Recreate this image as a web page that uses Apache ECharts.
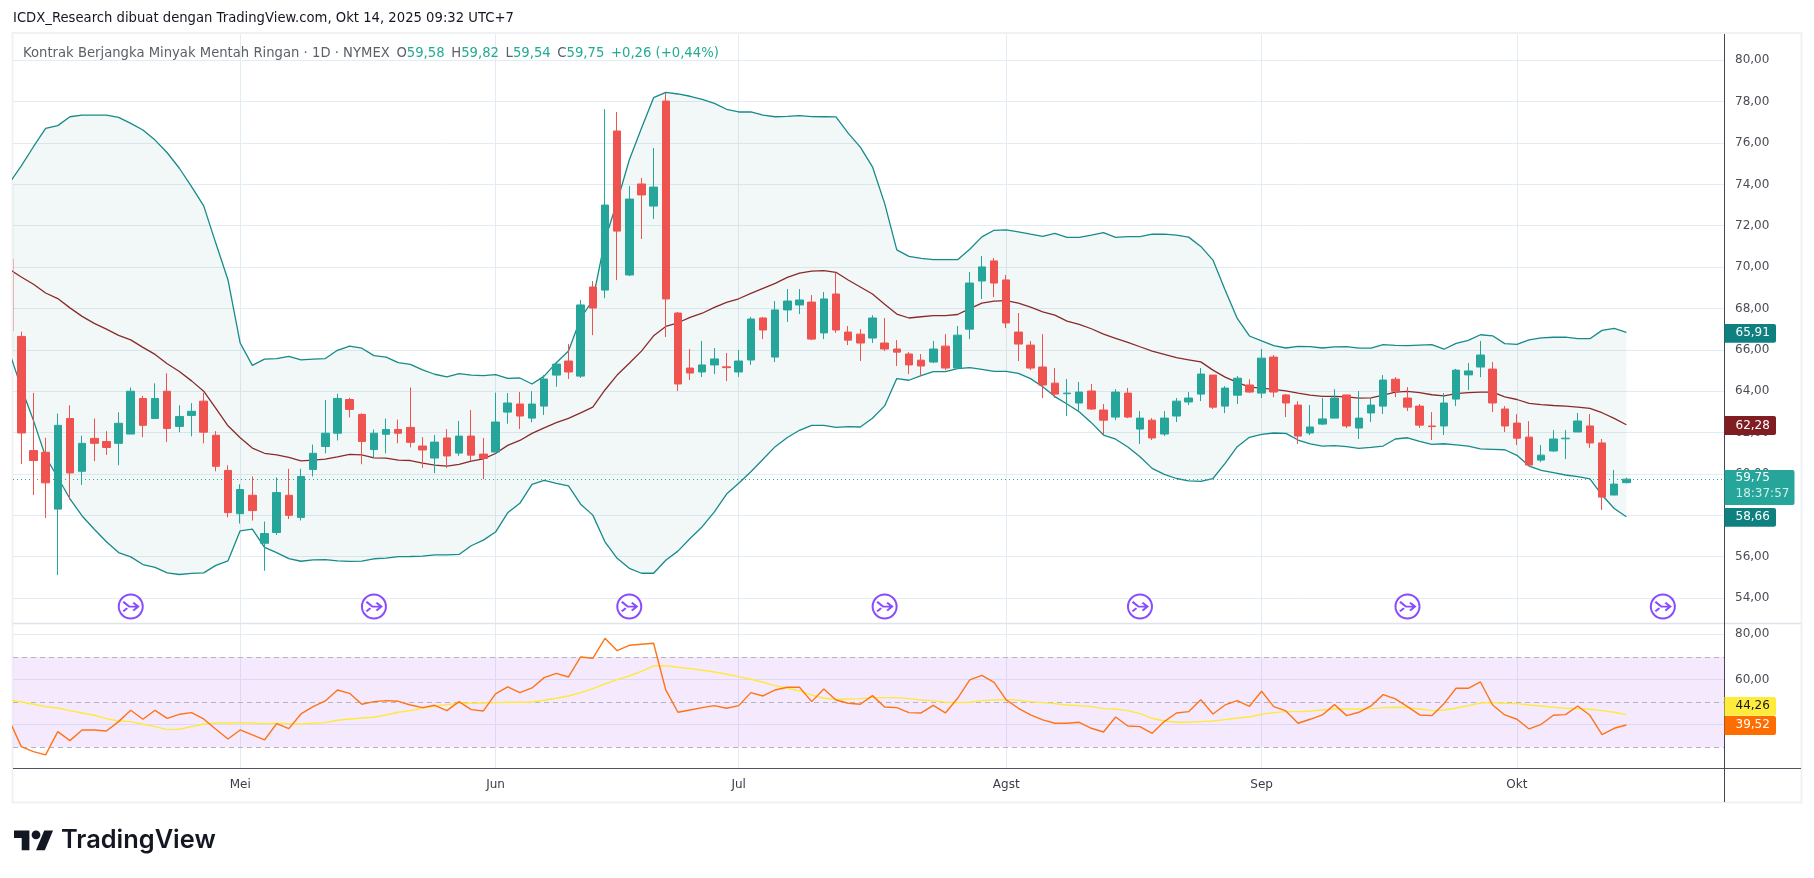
<!DOCTYPE html>
<html>
<head>
<meta charset="utf-8">
<style>html,body{margin:0;padding:0;background:#fff;overflow:hidden}#c{width:1814px;height:878px}</style>
<script src="https://cdn.jsdelivr.net/npm/echarts@6/dist/echarts.min.js"></script>
</head>
<body>
<div id="c"></div>
<script>
const opens = [70.4,66.65,61.13,61.05,58.3,62.68,60.13,61.72,61.57,61.48,
61.93,63.65,62.68,64,62.3,62.83,63.52,61.87,60.17,58.08,
58.97,56.65,57.17,58.97,57.9,60.22,61.33,61.97,63.6,62.88,
61.18,61.92,62.15,62.25,61.35,60.77,61.74,61.01,61.83,60.96,
61.06,62.99,63.38,62.7,63.28,64.78,65.46,64.73,69.04,68.89,
76.58,69.62,74.02,72.95,78.03,67.78,65.12,64.93,65.27,65.18,
64.93,65.51,67.54,65.65,67.93,68.17,68.31,66.82,68.7,66.86,
66.76,66.57,66.33,66.04,65.8,65.5,65.41,66.18,65.12,67,
69.33,70.3,69.38,66.86,66.23,65.17,64.39,63.88,63.43,64.01,
63.09,62.75,63.91,62.17,62.6,61.93,62.8,63.48,63.86,64.78,
63.28,63.81,64.3,63.91,65.65,63.82,63.33,61.98,62.41,62.7,
63.82,62.22,62.95,63.28,64.58,63.67,63.28,62.32,62.32,63.62,
64.79,65.17,65.07,63.14,62.46,61.78,60.67,61.11,61.7,62.03,
62.32,61.5,58.98,59.58];
const closes = [66.9,61.98,60.65,59.57,62.35,60.05,61.48,61.48,61.28,62.45,
64,62.35,63.65,62.2,62.78,63.03,62.02,60.37,58.13,59.25,
58.23,57.12,59.1,58,59.88,61,61.97,63.65,63.12,61.57,
61.97,62.15,61.97,61.53,61.16,61.54,60.87,61.83,60.91,60.75,
62.51,63.43,62.8,63.38,64.59,65.31,64.93,68.17,68.02,73,
71.74,73.29,73.49,73.87,68.46,64.35,64.88,65.27,65.56,65.14,
65.46,67.49,66.96,67.93,68.36,68.41,66.52,68.46,66.96,66.47,
66.33,67.54,66.04,65.89,65.27,65.22,66.04,65.12,66.71,69.23,
70.01,69.23,67.3,66.28,65.12,64.3,63.86,63.91,63.96,63.14,
62.6,63.96,62.75,62.7,61.74,62.7,63.52,63.67,64.83,63.23,
64.15,64.63,63.96,65.6,63.96,63.43,61.83,62.27,62.66,63.67,
62.32,62.7,63.33,64.54,64,63.23,62.36,62.29,63.43,65.02,
64.98,65.75,63.43,62.32,61.73,60.43,60.91,61.69,61.73,62.56,
61.5,58.88,59.51,59.75];
const highs = [70.4,66.88,63.92,61.75,62.92,63.32,61.85,62.68,62.07,62.98,
64.18,63.78,64.38,64.87,63.32,63.42,63.92,62.07,60.42,59.5,
59.88,57.7,59.83,60.25,60.25,61.42,63.58,63.88,63.68,62.93,
62.15,62.68,62.63,64.18,61.78,61.88,62.17,62.56,63.09,61.74,
63.93,63.91,63.96,64,64.78,65.35,66.28,68.41,69.33,77.64,
77.5,73.92,74.31,75.76,78.42,67.83,66.04,66.43,66.09,65.85,
65.99,67.59,67.59,68.36,68.94,68.94,68.65,68.8,69.71,67.15,
67,67.68,67.54,66.47,65.89,65.8,66.43,66.76,67.15,69.76,
70.54,70.44,69.62,67.78,66.43,66.76,65.12,64.59,64.45,64.35,
63.38,64.1,64.16,63.04,62.7,63.04,63.67,63.96,65.12,64.78,
64.25,64.73,64.58,66.04,65.75,63.87,63.52,63.33,63.67,64.1,
63.82,64.01,63.67,64.78,64.68,64.2,63.38,62.99,63.91,65.08,
65.37,66.43,65.41,63.28,62.89,62.55,61.4,62.12,62.12,62.95,
62.9,61.69,60.19,59.82];
const lows = [66.9,60.48,58.98,57.87,55.11,58.75,59.47,60.62,60.92,60.42,
61.93,61.78,62.68,61.55,62.02,61.82,61.48,60.13,57.9,57.6,
57.75,55.32,57.05,57.82,57.75,59.88,61,61.62,62.73,60.47,
60.78,61,61.48,61.28,60.29,60.04,60.3,60.87,60.62,59.75,
61.06,62.43,62.17,62.5,62.85,64.22,64.59,64.64,66.71,68.5,
69.37,69.57,71.36,72.33,66.62,64.01,64.54,64.69,64.83,64.49,
64.69,65.27,66.52,65.41,67.35,67.73,66.47,66.52,66.82,66.23,
65.46,66.33,65.94,65.22,64.83,64.73,65.36,65.02,65.07,66.52,
68.46,68.55,67.05,65.46,65.02,63.67,63.67,62.8,63.04,63.09,
61.88,62.6,62.7,61.45,61.64,61.83,62.51,63.33,63.52,63.14,
62.94,63.38,63.91,63.67,63.71,62.75,61.45,61.88,62.36,62.7,
62.22,61.69,62.51,62.9,63.71,63.04,62.22,61.64,61.88,63.28,
64.06,64.68,62.99,62.03,61.4,60.43,60.57,61.06,60.72,62.03,
61.26,58.26,58.98,59.54];
const bbUpper = [74.05,74.89,75.82,76.71,76.84,77.27,77.35,77.35,77.35,77.24,
76.95,76.63,76.14,75.53,74.78,73.89,72.96,71.15,69.38,66.33,
65.25,65.55,65.58,65.68,65.52,65.55,65.58,65.98,66.18,66.08,
65.72,65.65,65.38,65.3,65.03,64.82,64.69,64.85,64.78,64.75,
64.8,64.62,64.64,64.35,64.73,65.38,65.94,67.52,68.41,71.31,
73.16,75.18,76.71,78.19,78.45,78.37,78.26,78.11,77.92,77.63,
77.5,77.5,77.35,77.27,77.29,77.32,77.28,77.27,77.26,76.48,
75.8,74.85,73.08,70.83,70.52,70.42,70.36,70.36,70.36,70.86,
71.46,71.78,71.8,71.7,71.59,71.49,71.63,71.44,71.44,71.55,
71.67,71.44,71.47,71.47,71.59,71.59,71.55,71.45,71,70.34,
68.89,67.52,66.67,66.43,66.2,66.09,66.17,66.16,66.09,66.14,
66.16,66.08,66.08,66.25,66.22,66.2,66.23,66.25,66.03,66.31,
66.46,66.73,66.68,66.3,66.26,66.48,66.58,66.61,66.62,66.54,
66.54,66.94,67.04,66.85];
const bbBasis = [69.9,69.52,69.17,68.75,68.48,68.03,67.62,67.28,67,66.7,
66.48,66.12,65.78,65.33,64.95,64.5,64,63.17,62.33,61.75,
61.25,61,60.92,60.8,60.63,60.67,60.72,60.83,60.95,60.92,
60.78,60.77,60.67,60.65,60.52,60.43,60.38,60.46,60.62,60.73,
60.99,61.38,61.62,61.96,62.23,62.48,62.69,62.95,63.23,64.06,
64.78,65.35,65.94,66.68,67.13,67.31,67.57,67.77,68.05,68.3,
68.47,68.73,68.97,69.21,69.5,69.71,69.81,69.83,69.75,69.38,
69.04,68.7,68.21,67.73,67.54,67.6,67.65,67.65,67.71,67.99,
68.26,68.36,68.38,68.26,68.07,67.84,67.68,67.39,67.23,67.02,
66.76,66.55,66.36,66.15,65.94,65.78,65.62,65.52,65.42,65.02,
64.68,64.43,64.2,64.15,64.09,64.02,63.91,63.81,63.75,63.75,
63.73,63.67,63.68,63.81,63.96,63.99,63.93,63.83,63.77,63.88,
63.93,63.96,63.96,63.73,63.6,63.41,63.35,63.31,63.28,63.23,
63.17,62.96,62.69,62.38];
const bbLower = [65.92,64.17,62.58,60.83,59.83,58.8,57.97,57.33,56.72,56.2,
55.99,55.62,55.48,55.22,55.14,55.19,55.22,55.58,55.8,57.25,
57.33,56.45,56.2,55.91,55.78,55.85,55.86,55.8,55.77,55.79,
55.9,55.93,56,56.01,56.03,56.09,56.09,56.11,56.53,56.8,
57.19,58.12,58.58,59.5,59.69,59.55,59.42,58.54,58.01,56.72,
55.92,55.44,55.2,55.2,55.83,56.27,56.88,57.45,58.17,59.03,
59.55,60.11,60.71,61.32,61.76,62.11,62.35,62.35,62.25,62.29,
62.27,62.69,63.29,64.61,64.53,64.75,64.95,64.95,65.09,65.14,
65.06,64.96,64.96,64.86,64.61,64.22,63.74,63.38,63.01,62.48,
61.88,61.68,61.3,60.83,60.27,59.98,59.78,59.67,59.64,59.78,
60.51,61.32,61.77,61.91,61.98,61.96,61.64,61.45,61.35,61.37,
61.32,61.24,61.29,61.35,61.69,61.75,61.58,61.43,61.46,61.41,
61.35,61.21,61.19,61.17,60.9,60.38,60.17,60.06,59.95,59.87,
59.76,58.98,58.33,57.93];
const rsi = [42.1,30.29,28.08,26.61,36.93,32.95,37.67,37.67,37.23,41.36,
46.37,42.39,46.37,42.83,44.6,45.34,42.54,37.96,33.69,37.67,
35.46,33.24,40.47,38.26,44.75,47.99,50.5,55.37,53.89,49.03,
50.21,50.65,50.35,48.73,47.55,48.58,46.22,50.21,46.67,46.08,
53.6,56.7,54.19,56.25,60.83,62.74,61.12,69.97,69.38,78.23,
72.77,75.13,75.58,76.02,55.37,45.49,46.52,47.55,48.44,47.26,
48.44,54.19,52.71,55.37,56.55,56.55,50.21,55.81,50.94,49.47,
49.03,52.86,47.85,47.55,45.34,45.19,48.58,45.19,51.68,59.79,
61.86,58.76,51,47.26,44.31,42.1,40.62,40.62,41.06,38.41,
36.78,43.42,39.44,39.14,36.2,41.36,45.19,45.78,51.09,44.75,
48.73,50.65,48.14,54.78,48,46.08,40.62,42.39,44.31,48.88,
44.01,45.49,48.29,53.3,51.39,48,44.31,44.01,49.32,56.11,
56.11,58.91,48.73,44.31,42.4,38.11,40.18,44.16,44.45,48.29,
44.16,35.6,38.41,39.88];
const rsiMa = [50.94,50.06,49.03,48,47.4,46.22,45.19,44.16,42.68,41.65,
41.36,40.18,39.14,37.82,37.96,39.14,40.18,40.77,40.77,40.91,
40.77,40.47,40.62,40.47,40.32,40.62,40.91,41.95,42.54,42.98,
43.27,44.31,45.49,46.22,47.26,48.29,48.88,49.47,49.47,49.62,
49.76,49.91,49.91,50.06,50.8,51.68,52.71,54.19,55.96,58.02,
59.94,61.56,63.63,65.99,66.14,65.4,64.81,64.07,63.33,62.3,
61.27,60.09,58.76,57.29,56.11,54.93,53.16,51.68,51.24,51.39,
51.53,51.98,51.98,51.98,51.53,50.94,50.65,49.91,49.76,49.91,
50.65,50.94,51.09,50.8,50.21,49.76,49.32,48.73,48.44,48,
47.11,46.96,46.22,44.9,42.83,41.65,41.06,41.06,41.36,41.65,
42.24,42.98,43.42,44.6,45.34,45.78,45.78,46.08,46.52,46.96,
46.96,46.96,47.11,47.55,47.7,47.55,46.96,46.22,46.52,47.4,
48.44,49.62,49.76,49.47,49.32,48.73,48.29,47.7,47.26,47.11,
46.81,46.22,45.49,44.45];
const monthTicks = [19,40,60,82,103,124];
const monthLabels = ['Mei','Jun','Jul','Agst','Sep','Okt'];
const priceTicks = [54,56,58,60,62,64,66,68,70,72,74,76,78,80];
const rsiTicks = [40,60,80];
const markerDays = [10,30,51,72,93,115,136];
const markerLevel = 53.59;
const lastPrice = 59.75;

const TEAL='#26a69a', RED='#ef5350', BAND='#178a8a', BASIS='#8a2a2a';
const GRID='#e4ecf3';
const FONT='"DejaVu Sans", sans-serif';
const comma = v => v.toFixed(2).replace('.',',');
const fmtMonth = v => { const k = monthTicks.indexOf(Math.round(v)); return k>=0 ? monthLabels[k] : ''; };

const pairs = arr => arr.map((v,i)=>[i,v]);
const candleData = opens.map((o,i)=>[i,o,closes[i],lows[i],highs[i]]);

const X_MIN = 0.317, X_MAX = 141.03;
const xBase = { type:'value', min:X_MIN, max:X_MAX, axisLine:{show:false},
  splitLine:{show:true,lineStyle:{color:GRID,width:1}} };
const yBase = { type:'value', position:'right', axisLine:{show:false}, axisTick:{show:false},
  splitLine:{show:true,lineStyle:{color:GRID,width:1}} };

function tag(x,y,w,h,fill,lines){
  const out=[{type:'rect',z:100,shape:{x:x,y:y,width:w,height:h,r:[0,2,2,0]},style:{fill:fill}}];
  lines.forEach(l=>out.push({type:'text',z:101,x:1735.5,y:l.y,style:{text:l.t,fill:l.c,font:'12px '+FONT,textVerticalAlign:'middle'}}));
  return out;
}
const logoScale = 1.1, logoX = 14, logoY = 826;
const logoPts = pts => pts.map(p=>[logoX+p[0]*logoScale, logoY+p[1]*logoScale]);

function renderBand(params, api){
  if(params.dataIndex!==0) return null;
  const up = bbUpper.map((v,i)=>api.coord([i,v]));
  const lo = bbLower.map((v,i)=>api.coord([i,v])).reverse();
  const cs = params.coordSys;
  const pts = echarts.graphic.clipPointsByRect(up.concat(lo),{x:cs.x,y:cs.y,width:cs.width,height:cs.height});
  return {type:'polygon',shape:{points:pts},style:{fill:'rgba(23,130,130,0.055)'},silent:true};
}
function renderSliver(params, api){
  const c = api.coord([api.value(0),api.value(1)]);
  const d = api.coord([api.value(0),api.value(2)]);
  const cs = params.coordSys;
  const r = echarts.graphic.clipRectByRect({x:c[0]-4.5,y:c[1],width:9,height:d[1]-c[1]},{x:cs.x,y:cs.y,width:cs.width,height:cs.height});
  return r ? {type:'rect',shape:r,style:{fill:'#f0908c'},silent:true} : null;
}

const option = {
  animation:false,
  backgroundColor:'#ffffff',
  grid:[
    {left:13,top:34,width:1711,height:589.3,containLabel:false},
    {left:13,top:623.3,width:1711,height:145,containLabel:false}
  ],
  xAxis:[
    Object.assign({},xBase,{gridIndex:0,axisTick:{show:false,customValues:monthTicks},axisLabel:{show:false,customValues:monthTicks}}),
    Object.assign({},xBase,{gridIndex:1,axisTick:{show:false,customValues:monthTicks},
      axisLabel:{customValues:monthTicks,formatter:fmtMonth,color:'#3a3d47',fontFamily:FONT,fontSize:12,margin:11}})
  ],
  yAxis:[
    Object.assign({},yBase,{gridIndex:0,min:52.78,max:81.27,
      axisTick:{show:false,customValues:priceTicks},
      axisLabel:{customValues:priceTicks,formatter:comma,color:'#4a4d57',fontFamily:FONT,fontSize:12,margin:11}}),
    Object.assign({},yBase,{gridIndex:1,min:20.7,max:84.87,
      axisTick:{show:false,customValues:rsiTicks},
      axisLabel:{customValues:rsiTicks,formatter:comma,color:'#4a4d57',fontFamily:FONT,fontSize:12,margin:11}})
  ],
  series:[
    {type:'custom',name:'bandFill',xAxisIndex:0,yAxisIndex:0,data:pairs(bbUpper),encode:{x:0,y:1},renderItem:renderBand,z:2,silent:true},
    {type:'line',name:'upper',xAxisIndex:0,yAxisIndex:0,data:pairs(bbUpper),symbol:'none',lineStyle:{color:BAND,width:1.3},z:3},
    {type:'line',name:'lower',xAxisIndex:0,yAxisIndex:0,data:pairs(bbLower),symbol:'none',lineStyle:{color:BAND,width:1.3},z:3},
    {type:'line',name:'basis',xAxisIndex:0,yAxisIndex:0,data:pairs(bbBasis),symbol:'none',lineStyle:{color:BASIS,width:1.3},z:3},
    {type:'custom',name:'clippedFirstCandle',xAxisIndex:0,yAxisIndex:0,data:[[0,opens[0],closes[0]]],encode:{x:0,y:1},renderItem:renderSliver,z:4,silent:true},
    {type:'candlestick',name:'price',xAxisIndex:0,yAxisIndex:0,data:candleData,barWidth:8,z:5,
      itemStyle:{color:TEAL,color0:RED,borderColor:TEAL,borderColor0:RED,borderWidth:1},
      markLine:{silent:true,symbol:'none',label:{show:false},z:4,lineStyle:{color:'#22ab94',type:[1,3],width:1},data:[{yAxis:lastPrice}]}},
    {type:'scatter',name:'markerRing',xAxisIndex:0,yAxisIndex:0,data:markerDays.map(d=>[d,markerLevel]),symbol:'circle',symbolSize:24,z:6,
      itemStyle:{color:'#ffffff',borderColor:'#6a1fff',borderWidth:2}},
    {type:'scatter',name:'markerArrow',xAxisIndex:0,yAxisIndex:0,data:markerDays.map(d=>[d,markerLevel]),
      symbol:'path://M-7,-6 L-1,0 L8,0 M3,-5 L8,0 L3,5 M-3,2 L-7,6',symbolKeepAspect:true,symbolSize:[15,12],z:7,
      itemStyle:{color:'rgba(0,0,0,0)',borderColor:'#6a1fff',borderWidth:2}},
    {type:'line',name:'rsiMa',xAxisIndex:1,yAxisIndex:1,data:pairs(rsiMa),symbol:'none',lineStyle:{color:'#ffe93b',width:1.4},z:3},
    {type:'line',name:'rsi',xAxisIndex:1,yAxisIndex:1,data:pairs(rsi),symbol:'none',lineStyle:{color:'#ff7415',width:1.4},z:4,
      markArea:{silent:true,z:1,itemStyle:{color:'rgba(175,82,245,0.13)'},data:[[{yAxis:30},{yAxis:70}]]},
      markLine:{silent:true,symbol:'none',label:{show:false},z:2,lineStyle:{color:'#b5b3bb',type:[5,4],width:1},data:[{yAxis:70},{yAxis:50},{yAxis:30}]}}
  ],
  graphic:[
    {type:'text',z:100,x:13,y:19,style:{text:'ICDX_Research dibuat dengan TradingView.com, Okt 14, 2025 09:32 UTC+7',fill:'#131722',font:'13.2px '+FONT,textVerticalAlign:'middle'}},
    {type:'rect',z:0,shape:{x:12.5,y:33,width:1789,height:769.5},style:{fill:'none',stroke:'#f0f1f3',lineWidth:2}},
    {type:'line',z:90,shape:{x1:13,y1:623.5,x2:1801,y2:623.5},style:{stroke:'#e0e3eb',lineWidth:1.4}},
    {type:'line',z:90,shape:{x1:13,y1:768.5,x2:1801,y2:768.5},style:{stroke:'#50535e',lineWidth:1}},
    {type:'line',z:90,shape:{x1:1724.5,y1:34,x2:1724.5,y2:802},style:{stroke:'#434651',lineWidth:1}},
    {type:'text',z:100,x:23,y:53.5,style:{
      text:'{g|Kontrak Berjangka Minyak Mentah Ringan · 1D · NYMEX}  {g|O}{t|59,58}  {g|H}{t|59,82}  {g|L}{t|59,54}  {g|C}{t|59,75}  {t|+0,26 (+0,44%)}',
      textVerticalAlign:'middle',
      rich:{g:{fill:'#5d606b',font:'13.2px '+FONT},t:{fill:'#22ab94',font:'13.2px '+FONT}}}},
    ...tag(1724.5,324,51.5,18.7,'#0f8080',[{t:'65,91',y:333,c:'#ffffff'}]),
    ...tag(1724.5,416,51.5,19,'#7f1d22',[{t:'62,28',y:425.5,c:'#ffffff'}]),
    ...tag(1724.5,470,70,35,'#26a69a',[{t:'59,75',y:478,c:'#ffffff'},{t:'18:37:57',y:494,c:'#d2ede9'}]),
    ...tag(1724.5,508,51.5,18.7,'#0f8080',[{t:'58,66',y:517,c:'#ffffff'}]),
    ...tag(1724.5,697,51.5,18.7,'#ffeb3b',[{t:'44,26',y:706,c:'#131722'}]),
    ...tag(1724.5,716,51.5,19,'#ff6d00',[{t:'39,52',y:725,c:'#ffffff'}]),
    {type:'polygon',z:100,shape:{points:logoPts([[14,22],[7,22],[7,11],[0,11],[0,4],[14,4]])},style:{fill:'#131722'}},
    {type:'polygon',z:100,shape:{points:logoPts([[28,22],[20,22],[27.5,4],[35.5,4]])},style:{fill:'#131722'}},
    {type:'circle',z:100,shape:{cx:logoX+20*logoScale,cy:logoY+8*logoScale,r:4*logoScale},style:{fill:'#131722'}},
    {type:'text',z:100,x:61,y:840,style:{text:'TradingView',fill:'#131722',font:'600 25.4px Inter, sans-serif',textVerticalAlign:'middle'}}
  ]
};
const chart = echarts.init(document.getElementById('c'),null,{renderer:'canvas',width:1814,height:878});
chart.setOption(option);
</script>
</body>
</html>
